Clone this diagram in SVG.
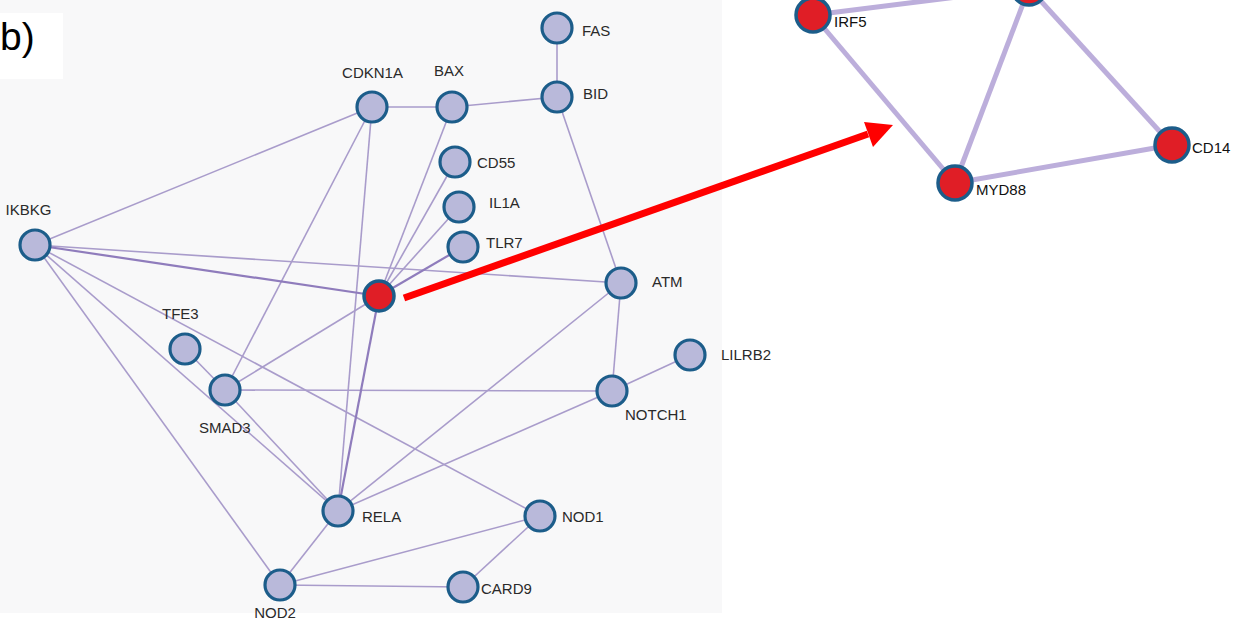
<svg xmlns="http://www.w3.org/2000/svg" width="1235" height="624" viewBox="0 0 1235 624">
  <defs>
    <style>
      .lbl { font-family: "Liberation Sans", Arial, sans-serif; font-size: 15px; fill: #2a2a2a; }
      .lblR { font-family: "Liberation Sans", Arial, sans-serif; font-size: 15px; fill: #111; }
      .node circle { fill: #b9b9da; stroke: #1c5d8a; stroke-width: 3.2; }
      .hit circle { fill: #e01e26; stroke: #1c5d8a; stroke-width: 3.5; }
      .edges line { stroke: #a99ccb; stroke-width: 1.6; }
      .edges line.strong { stroke: #8f7cbc; stroke-width: 2.2; }
      .edgesR line { stroke: #bcaedb; stroke-width: 5; }
    </style>
  </defs>

  <!-- page background -->
  <rect x="0" y="0" width="1235" height="624" fill="#ffffff"/>
  <!-- network panel -->
  <rect x="0" y="0" width="722" height="613" fill="#f8f8f9"/>
  <!-- panel tag -->
  <rect x="0" y="13" width="63" height="66" fill="#ffffff"/>
  <text x="0" y="50" font-family="Liberation Sans, Arial, sans-serif" font-size="39" fill="#000">b)</text>

  <!-- connectors of the left network -->
  <g id="connectors" class="edges">
    <line x1="372" y1="107" x2="452" y2="107"/>
    <line x1="452" y1="107" x2="557" y2="97"/>
    <line x1="557" y1="28" x2="557" y2="97"/>
    <line x1="557" y1="97" x2="621" y2="283"/>
    <line x1="35" y1="245" x2="372" y2="107"/>
    <line x1="35" y1="245" x2="621" y2="283"/>
    <line x1="35" y1="245" x2="540" y2="516"/>
    <line x1="35" y1="245" x2="338" y2="511"/>
    <line x1="35" y1="245" x2="280" y2="585"/>
    <line x1="372" y1="107" x2="225" y2="390"/>
    <line x1="372" y1="107" x2="338" y2="511"/>
    <line x1="452" y1="107" x2="379" y2="296"/>
    <line x1="455" y1="162" x2="379" y2="296"/>
    <line x1="459" y1="207" x2="379" y2="296"/>
    <line x1="379" y1="296" x2="225" y2="390"/>
    <line x1="185" y1="349" x2="225" y2="390"/>
    <line x1="225" y1="390" x2="338" y2="511"/>
    <line x1="225" y1="390" x2="612" y2="391"/>
    <line x1="621" y1="283" x2="612" y2="391"/>
    <line x1="612" y1="391" x2="690" y2="355"/>
    <line x1="621" y1="283" x2="338" y2="511"/>
    <line x1="612" y1="391" x2="338" y2="511"/>
    <line x1="338" y1="511" x2="280" y2="585"/>
    <line x1="280" y1="585" x2="540" y2="516"/>
    <line x1="280" y1="585" x2="463" y2="587"/>
    <line x1="463" y1="587" x2="540" y2="516"/>
    <line class="strong" x1="35" y1="245" x2="379" y2="296"/>
    <line class="strong" x1="463" y1="247" x2="379" y2="296"/>
    <line class="strong" x1="379" y1="296" x2="338" y2="511"/>
  </g>

  <!-- nodes of the left network -->
  <g id="node-IKBKG" class="node"><circle cx="35" cy="245" r="15"/><text class="lbl" x="28.5" y="215" text-anchor="middle">IKBKG</text></g>
  <g id="node-CDKN1A" class="node"><circle cx="372" cy="107" r="15"/><text class="lbl" x="372.5" y="78" text-anchor="middle">CDKN1A</text></g>
  <g id="node-BAX" class="node"><circle cx="452" cy="107" r="15"/><text class="lbl" x="449" y="76" text-anchor="middle">BAX</text></g>
  <g id="node-FAS" class="node"><circle cx="557" cy="28" r="15"/><text class="lbl" x="582" y="36">FAS</text></g>
  <g id="node-BID" class="node"><circle cx="557" cy="97" r="15"/><text class="lbl" x="583" y="99">BID</text></g>
  <g id="node-CD55" class="node"><circle cx="455" cy="162" r="15"/><text class="lbl" x="477" y="168">CD55</text></g>
  <g id="node-IL1A" class="node"><circle cx="459" cy="207" r="15"/><text class="lbl" x="489" y="208">IL1A</text></g>
  <g id="node-TLR7" class="node"><circle cx="463" cy="247" r="15"/><text class="lbl" x="486" y="248">TLR7</text></g>
  <g id="node-hub" class="hit"><circle cx="379" cy="296" r="15"/></g>
  <g id="node-ATM" class="node"><circle cx="621" cy="283" r="15"/><text class="lbl" x="652" y="287">ATM</text></g>
  <g id="node-LILRB2" class="node"><circle cx="690" cy="355" r="15"/><text class="lbl" x="721" y="360">LILRB2</text></g>
  <g id="node-NOTCH1" class="node"><circle cx="612" cy="391" r="15"/><text class="lbl" x="625" y="420">NOTCH1</text></g>
  <g id="node-TFE3" class="node"><circle cx="185" cy="349" r="15"/><text class="lbl" x="162" y="319">TFE3</text></g>
  <g id="node-SMAD3" class="node"><circle cx="225" cy="390" r="15"/><text class="lbl" x="199" y="433">SMAD3</text></g>
  <g id="node-RELA" class="node"><circle cx="338" cy="511" r="15"/><text class="lbl" x="362" y="522">RELA</text></g>
  <g id="node-NOD1" class="node"><circle cx="540" cy="516" r="15"/><text class="lbl" x="562" y="522">NOD1</text></g>
  <g id="node-CARD9" class="node"><circle cx="463" cy="587" r="15"/><text class="lbl" x="481" y="594">CARD9</text></g>
  <g id="node-NOD2" class="node"><circle cx="280" cy="585" r="15"/><text class="lbl" x="275" y="618" text-anchor="middle">NOD2</text></g>

  <!-- expansion arrow -->
  <g id="arrow">
    <line x1="404" y1="298" x2="868" y2="134" stroke="#ff0000" stroke-width="7"/>
    <polygon points="893,125 864,122 873,147" fill="#ff0000"/>
  </g>

  <!-- connectors of the expanded hub neighbourhood -->
  <g id="connectors-right" class="edgesR">
    <line x1="813" y1="15" x2="1029" y2="-12"/>
    <line x1="813" y1="15" x2="955" y2="183"/>
    <line x1="1029" y1="-12" x2="955" y2="183"/>
    <line x1="1029" y1="-12" x2="1172" y2="145"/>
    <line x1="955" y1="183" x2="1172" y2="145"/>
  </g>

  <!-- nodes of the expanded hub neighbourhood -->
  <g id="node-top" class="hit"><circle cx="1029" cy="-12" r="17"/></g>
  <g id="node-IRF5" class="hit"><circle cx="813" cy="15" r="17"/><text class="lblR" x="834" y="27">IRF5</text></g>
  <g id="node-MYD88" class="hit"><circle cx="955" cy="183" r="17"/><text class="lblR" x="976" y="195">MYD88</text></g>
  <g id="node-CD14" class="hit"><circle cx="1172" cy="145" r="17"/><text class="lblR" x="1192" y="153">CD14</text></g>
</svg>
